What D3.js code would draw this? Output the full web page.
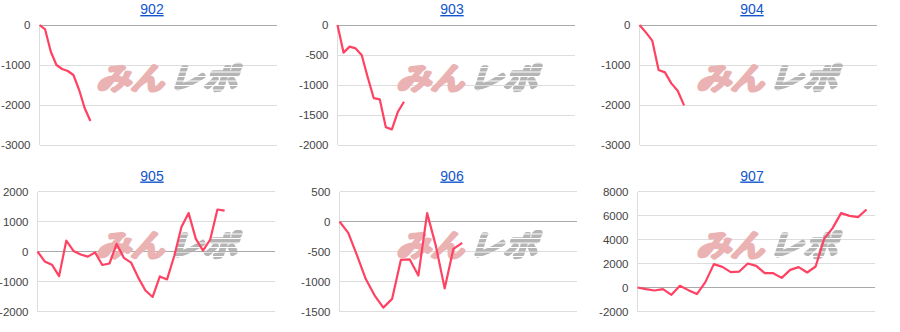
<!DOCTYPE html>
<html lang="ja">
<head>
<meta charset="UTF-8">
<script src="https://d3js.org/d3.v7.min.js"></script>
<title>差枚グラフ</title>
<style>
  body { margin: 0; background: #fff; }
  text { font-family: Arial, "Liberation Sans", sans-serif; }
</style>
</head>
<body>
<svg id="svg1" width="900" height="332"></svg>
<script>
// machine numbers (panel titles)
const machines = ["902", "903", "904", "905", "906", "907"];

// 差枚 per data point
const diff902 = [0, -110, -670, -1000, -1100, -1150, -1250, -1620, -2080, -2400];
const diff903 = [0, -460, -360, -390, -500, -870, -1220, -1240, -1705, -1740, -1445, -1280];
const diff904 = [0, -185, -390, -1125, -1185, -1460, -1645, -2010];
const diff905 = [0, -330, -440, -820, 360, 20, -100, -170, -30, -450, -400, 250, -210, -370,
                 -870, -1300, -1515, -830, -930, -150, 820, 1280, 420, 30, 400, 1400, 1360];
const diff906 = [0, -190, -565, -960, -1230, -1435, -1290, -640, -630, -900, 140, -410, -1115, -455, -355];
const diff907 = [0, -140, -250, -140, -610, 140, -220, -550, 450, 1950, 1720, 1280, 1330, 2000,
                 1800, 1200, 1190, 800, 1470, 1700, 1250, 1750, 4050, 4950, 6200, 5970, 5860, 6500];

// y axis tick labels
const yTicks902 = [0, -1000, -2000, -3000];
const yTicks903 = [0, -500, -1000, -1500, -2000];
const yTicks904 = [0, -1000, -2000, -3000];
const yTicks905 = [2000, 1000, 0, -1000, -2000];
const yTicks906 = [500, 0, -500, -1000, -1500];
const yTicks907 = [8000, 6000, 4000, 2000, 0, -2000];

// length of the x axis in data steps
const xSpan = [42, 39.3, 37.3, 33, 27.1, 28];

const series = [diff902, diff903, diff904, diff905, diff906, diff907];
const yTicks = [yTicks902, yTicks903, yTicks904, yTicks905, yTicks906, yTicks907];

const svg1 = d3.select("svg#svg1");
const panelW = 300, rowH = 166.5;
const plotW = 237.5, plotH = 120;
const leftPad = [39.5, 37.5, 39.5, 37.5, 39.5, 37.5];

// stripes for the watermark's grey part
const defs = svg1.append("defs");
const mask = defs.append("mask").attr("id", "stripes")
    .attr("maskUnits", "userSpaceOnUse")
    .attr("x", 0).attr("y", 0).attr("width", 900).attr("height", 332);
mask.append("rect").attr("width", 900).attr("height", 332).attr("fill", "white");
d3.range(0, 332, 4.5).forEach(yy => {
    mask.append("line").attr("x1", 0).attr("x2", 900)
        .attr("y1", yy).attr("y2", yy)
        .attr("stroke", "black").attr("stroke-width", 1.1);
});

machines.forEach((name, i) => {
    const col = i % 3, row = Math.floor(i / 3);
    const panelX = col * panelW;
    const left = panelX + leftPad[i];
    const top = 25 + row * rowH;
    const ticks = yTicks[i];

    const x = d3.scaleLinear().domain([0, xSpan[i]]).range([left, left + plotW]);
    const y = d3.scaleLinear().domain(d3.extent(ticks)).range([top + plotH, top]);

    const g = svg1.append("g");

    // gridlines
    ticks.forEach(t => {
        g.append("line")
            .attr("x1", left).attr("x2", left + plotW)
            .attr("y1", y(t)).attr("y2", y(t))
            .attr("stroke", t === 0 ? "#aaa" : "#ddd")
            .attr("stroke-width", 1)
            .attr("shape-rendering", "crispEdges");
    });
    g.append("line")
        .attr("x1", left).attr("x2", left)
        .attr("y1", top).attr("y2", top + plotH)
        .attr("stroke", "#ddd")
        .attr("shape-rendering", "crispEdges");

    // tick labels
    ticks.forEach(t => {
        g.append("text")
            .attr("x", left - 9)
            .attr("y", y(t))
            .attr("dy", "0.36em")
            .attr("text-anchor", "end")
            .attr("font-size", 11.5)
            .attr("fill", "#444")
            .text(t);
    });

    // watermark
    const wx = panelX + 98, wy = top + 62;
    g.append("text")
        .attr("transform", `translate(${wx},${wy}) skewX(-18)`)
        .attr("font-family", "'Noto Sans CJK JP'")
        .attr("font-weight", "bold")
        .attr("font-size", 29)
        .attr("textLength", 68)
        .attr("lengthAdjust", "spacingAndGlyphs")
        .attr("fill", "#eab2b2")
        .attr("stroke", "#eab2b2")
        .attr("stroke-width", 3.2)
        .attr("stroke-linejoin", "round")
        .text("みん");
    const grey = g.append("g").attr("mask", "url(#stripes)");
    grey.append("text")
        .attr("transform", `translate(${wx + 74},${wy}) skewX(-18)`)
        .attr("font-family", "'Noto Sans CJK JP'")
        .attr("font-weight", "bold")
        .attr("font-size", 29)
        .attr("textLength", 66)
        .attr("lengthAdjust", "spacingAndGlyphs")
        .attr("fill", "#b5b5b5")
        .attr("stroke", "#b5b5b5")
        .attr("stroke-width", 3.2)
        .attr("stroke-linejoin", "round")
        .text("レポ");

    // data line
    const lineGen = d3.line()
        .x((d, j) => x(j))
        .y(d => y(d));
    g.append("path")
        .datum(series[i])
        .attr("fill", "none")
        .attr("stroke", "#ff4162")
        .attr("stroke-width", 2.2)
        .attr("stroke-linejoin", "round")
        .attr("d", lineGen);

    // title
    g.append("text")
        .attr("x", panelX + 152)
        .attr("y", top - 11)
        .attr("text-anchor", "middle")
        .attr("font-size", 14)
        .attr("fill", "#1155cc")
        .style("text-decoration", "underline")
        .text(name);
});
</script>
</body>
</html>
